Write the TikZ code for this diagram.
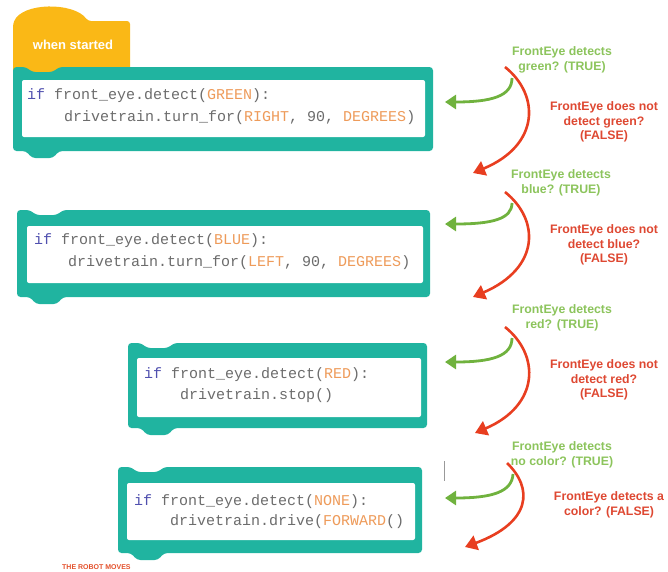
\documentclass[tikz,border=0pt]{standalone}
\usepackage{fontspec}
\setmainfont{Liberation Sans}
\setmonofont{Liberation Mono}
\usetikzlibrary{arrows.meta}
\definecolor{blockteal}{RGB}{32,180,160}
\definecolor{hatyellow}{RGB}{250,184,22}
\definecolor{codegray}{RGB}{108,108,108}
\definecolor{kwblue}{RGB}{80,80,175}
\definecolor{argorange}{RGB}{238,155,90}
\definecolor{truegreen}{RGB}{112,178,62}
\definecolor{falsered}{RGB}{232,62,32}
\definecolor{truetext}{RGB}{140,196,92}
\definecolor{falsetext}{RGB}{222,72,50}
\newcommand\codeblk[4]{%
  \fill[blockteal, rounded corners=3.5pt] (#1,#4) -- (#1,#2) -- ({#1+13},#2) -- ({#1+19},{#2+5}) -- ({#1+40},{#2+5}) -- ({#1+46},#2) -- (#3,#2) -- (#3,#4) -- ({#1+46},#4) -- ({#1+40},{#4+7}) -- ({#1+19},{#4+7}) -- ({#1+13},#4) -- cycle;
}
\newcommand\kwd[1]{\textcolor{kwblue}{#1}}
\newcommand\argm[1]{\textcolor{argorange}{#1}}
\begin{document}
\begin{tikzpicture}[x=1pt,y=-1pt,
  code/.style={anchor=west, inner sep=0pt, text=codegray, font=\ttfamily\fontsize{15}{18}\selectfont},
  truelbl/.style={align=center, inner sep=0pt, text=truetext, font=\bfseries\fontsize{12.3}{14.5}\selectfont},
  falselbl/.style={align=center, inner sep=0pt, text=falsetext, font=\bfseries\fontsize{12.3}{14.8}\selectfont},
  falsearrow/.style={falsered, line width=2.6pt, -{Triangle[length=12pt,width=15pt]}},
  truearrow/.style={truegreen, line width=2.8pt, -{Triangle[length=11pt,width=14pt]}}]
\useasboundingbox (0,0) rectangle (668,571);
% hat block
\fill[hatyellow, rounded corners=3pt] (13,74) -- (13,24) .. controls (22,2) and (74,2) .. (88,21) -- (130,21) -- (130,74) -- cycle;
\node[text=white, font=\bfseries\fontsize{13}{15}\selectfont] (hat) at (73,45) {when started};
% code blocks
\codeblk{13}{67}{433}{151}
\fill[white, rounded corners=2pt] (22,80) rectangle (425,137);
\codeblk{17}{210}{430}{297}
\fill[white, rounded corners=2pt] (27,226) rectangle (423,283);
\codeblk{128}{343}{427}{428}
\fill[white, rounded corners=2pt] (137,358) rectangle (421,417);
\codeblk{118}{467}{422}{553}
\fill[white, rounded corners=2pt] (127,483) rectangle (415,540);
% code text
\node[code] (c1a) at (27,96) {\kwd{if} front\_eye.detect(\argm{GREEN}):};
\node[code] (c1b) at (64,118) {drivetrain.turn\_for(\argm{RIGHT}, 90, \argm{DEGREES})};
\node[code] (c2a) at (34,241) {\kwd{if} front\_eye.detect(\argm{BLUE}):};
\node[code] (c2b) at (68,263) {drivetrain.turn\_for(\argm{LEFT}, 90, \argm{DEGREES})};
\node[code] (c3a) at (144,375) {\kwd{if} front\_eye.detect(\argm{RED}):};
\node[code] (c3b) at (180,396) {drivetrain.stop()};
\node[code] (c4a) at (134,502) {\kwd{if} front\_eye.detect(\argm{NONE}):};
\node[code] (c4b) at (170,522) {drivetrain.drive(\argm{FORWARD}()};
% labels
\node[truelbl] (t1) at (562,60) {FrontEye detects\\green? (TRUE)};
\node[falselbl] (f1) at (604,122) {FrontEye does not\\detect green?\\(FALSE)};
\node[truelbl] (t2) at (561,183) {FrontEye detects\\blue? (TRUE)};
\node[falselbl] (f2) at (604,245) {FrontEye does not\\detect blue?\\(FALSE)};
\node[truelbl] (t3) at (562,318) {FrontEye detects\\red? (TRUE)};
\node[falselbl] (f3) at (604,380) {FrontEye does not\\detect red?\\(FALSE)};
\node[truelbl] (t4) at (562,455) {FrontEye detects\\no color? (TRUE)};
\node[falselbl] (f4) at (609,505) {FrontEye detects a\\color? (FALSE)};
% arrow end points
\coordinate (r1s) at (505,67);  \coordinate (r1e) at (473,173);
\coordinate (g1s) at (512,78);  \coordinate (g1e) at (445,102);
\coordinate (r2s) at (505,192); \coordinate (r2e) at (473,297);
\coordinate (g2s) at (512,203); \coordinate (g2e) at (445,224);
\coordinate (r3s) at (505,327); \coordinate (r3e) at (475,433);
\coordinate (g3s) at (512,338); \coordinate (g3e) at (445,362);
\coordinate (r4s) at (507,463); \coordinate (r4e) at (465,547);
\coordinate (g4s) at (513,474); \coordinate (g4e) at (445,498);
% arrows
\draw[falsearrow] (r1s) .. controls (540,95) and (540,145) .. (r1e);
\draw[truearrow] (g1s) .. controls (512,96) and (492,102) .. (g1e);
\draw[falsearrow] (r2s) .. controls (540,220) and (540,268) .. (r2e);
\draw[truearrow] (g2s) .. controls (512,219) and (492,224) .. (g2e);
\draw[falsearrow] (r3s) .. controls (540,355) and (540,405) .. (r3e);
\draw[truearrow] (g3s) .. controls (512,356) and (492,362) .. (g3e);
\draw[falsearrow] (r4s) .. controls (533,488) and (532,522) .. (r4e);
\draw[truearrow] (g4s) .. controls (512,492) and (492,498) .. (g4e);
% small mark and bottom caption
\draw[gray!80, line width=1pt] (444,461) -- (444,481);
\node[anchor=base west, inner sep=0pt, text=falsetext!85!orange, font=\bfseries\fontsize{7}{8}\selectfont] (bottom) at (62,569.5) {THE ROBOT MOVES};
\end{tikzpicture}
\end{document}
